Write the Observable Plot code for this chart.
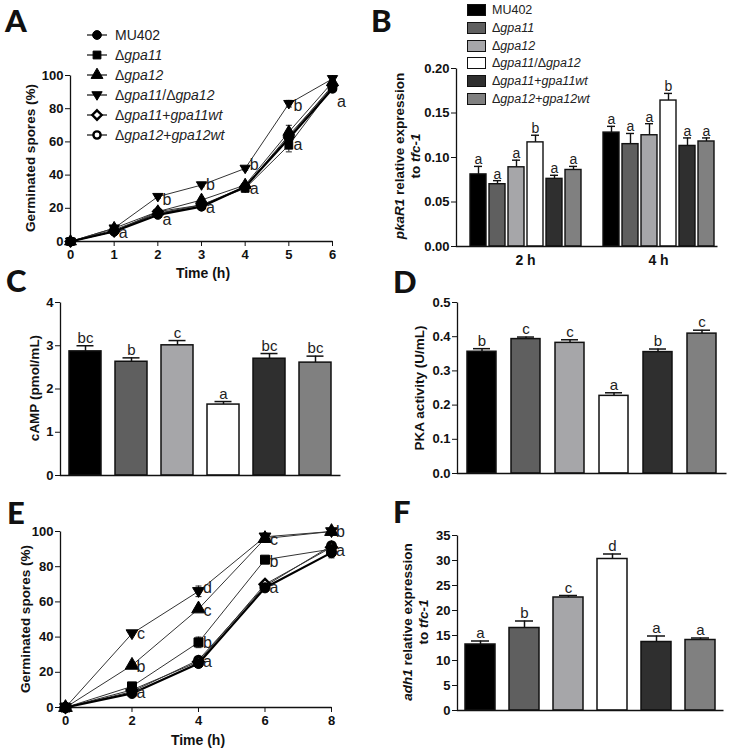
<!DOCTYPE html>
<html><head><meta charset="utf-8">
<script src="https://cdn.jsdelivr.net/npm/d3@7"></script>
<script src="https://cdn.jsdelivr.net/npm/@observablehq/plot@0.6"></script>
<style>
html,body{margin:0;padding:0;background:#fff;}
#fig{position:relative;width:732px;height:754px;overflow:hidden;background:#fff;font-family:"Liberation Sans",Arial,sans-serif;color:#111;}
.plet{position:absolute;font-family:Lato,"Liberation Sans",sans-serif;font-weight:900;font-size:31px;line-height:36px;}
.yt{position:absolute;transform:translate(-50%,-50%) rotate(-90deg);white-space:nowrap;font-weight:bold;font-size:13.5px;line-height:16px;text-align:center;}
.xt{position:absolute;transform:translate(-50%,-50%);white-space:nowrap;font-weight:bold;font-size:14px;}
.lg{position:absolute;display:flex;align-items:center;white-space:nowrap;transform:translateY(-50%);color:#222;}
</style></head><body><div id="fig"></div><script>
// ---------------- DATA ----------------
const strains = ["MU402","Δgpa11","Δgpa12","Δgpa11/Δgpa12","Δgpa11+gpa11wt","Δgpa12+gpa12wt"];
const legendLabels = ["MU402","Δ<i>gpa11</i>","Δ<i>gpa12</i>","Δ<i>gpa11</i>/Δ<i>gpa12</i>","Δ<i>gpa11</i>+<i>gpa11wt</i>","Δ<i>gpa12</i>+<i>gpa12wt</i>"];
const barFills = ["#000000","#5f5f5f","#a6a6a9","#ffffff","#2f2f2f","#808080"];

// Panel A: germination (%) vs time (h)
const timeA = [0,1,2,3,4,5,6];
const germA_MU402   = [0,6,16,21,33,62,92];
const germA_gpa11   = [0,7,17,22,32,58,93];
const germA_gpa12   = [0,8,18,25,34,66,96];
const germA_double  = [0,8,27,34,44,83,98];
const germA_gpa11wt = [0,6,18,22,33,63,94];
const germA_gpa12wt = [0,6,17,21,33,64,93];
const errA_MU402   = [0,1,1,1,2,3,2];
const errA_gpa11   = [0,1,1,1,2,4,2];
const errA_gpa12   = [0,1,1,1,1,4,1];
const errA_double  = [0,1,1,1,1,2,1];
const errA_gpa11wt = [0,1,1,1,1,3,1];
const errA_gpa12wt = [0,1,1,1,1,3,1];
const lettersA_t   = [1,2,2,3,3,4,4,5,5,6];
const lettersA_y   = [5,25,13,34,20,46,32,82,58,84];
const lettersA_txt = ["a","b","a","b","a","b","a","b","a","a"];

// Panel B: pkaR1 relative expression
const timesB = ["2 h","4 h"];
const pkaR1_2h     = [0.081,0.070,0.089,0.117,0.076,0.086];
const pkaR1_2h_err = [0.009,0.004,0.008,0.008,0.004,0.004];
const pkaR1_4h     = [0.128,0.115,0.125,0.164,0.113,0.118];
const pkaR1_4h_err = [0.007,0.012,0.013,0.008,0.009,0.004];
const lettersB_2h  = ["a","a","a","b","a","a"];
const lettersB_4h  = ["a","a","a","b","a","a"];

// Panel C: cAMP (pmol/mL)
const camp       = [2.87,2.63,3.01,1.64,2.70,2.61];
const campErr    = [0.13,0.09,0.11,0.07,0.12,0.15];
const campLetters= ["bc","b","c","a","bc","bc"];

// Panel D: PKA activity (U/mL)
const pka        = [0.356,0.393,0.382,0.227,0.355,0.409];
const pkaErr     = [0.009,0.006,0.009,0.009,0.009,0.010];
const pkaLetters = ["b","c","c","a","b","c"];

// Panel E: germination (%) vs time (h)
const timeE = [0,2,4,6,8];
const germE_MU402   = [0,8,25,68,88];
const germE_gpa11   = [0,12,37,84,90];
const germE_gpa12   = [0,24,56,96,100];
const germE_double  = [0,42,66,97,100];
const germE_gpa11wt = [0,10,26,70,91];
const germE_gpa12wt = [0,9,27,69,92];
const errE_MU402   = [0,1,2,1,3];
const errE_gpa11   = [0,1,3,1,2];
const errE_gpa12   = [0,1,1,1,1];
const errE_double  = [0,1,3,2,1];
const errE_gpa11wt = [0,1,2,1,2];
const errE_gpa12wt = [0,1,2,1,2];
const lettersE_t   = [2,2,2,4,4,4,4,6,6,6,8,8];
const lettersE_y   = [42,23,8.5,68,55,37,26,95,83,68,100,89];
const lettersE_txt = ["c","b","a","d","c","b","a","c","b","a","b","a"];

// Panel F: adh1 relative expression
const adh1        = [13.2,16.5,22.6,30.3,13.7,14.1];
const adh1Err     = [0.7,1.4,0.4,1.0,1.2,0.4];
const adh1Letters = ["a","b","c","d","a","a"];

// ---------------- HELPERS ----------------
const fig = document.getElementById("fig");
const FONT = '"Liberation Sans", Arial, sans-serif';
const baseStyle = {fontFamily: FONT, fontSize: "13px", fontWeight: "bold", background: "transparent", overflow: "visible", color: "#111"};

const triDown = {draw(ctx, size){ const r = Math.sqrt(size/Math.PI)*1.25; ctx.moveTo(0, r); ctx.lineTo(r*0.98, -r*0.62); ctx.lineTo(-r*0.98, -r*0.62); ctx.closePath(); }};
const diamondSq = {draw(ctx, size){ const r = Math.sqrt(size/Math.PI)*1.3; ctx.moveTo(0,-r); ctx.lineTo(r,0); ctx.lineTo(0,r); ctx.lineTo(-r,0); ctx.closePath(); }};
const capSym = {draw(ctx, size){ const r = Math.sqrt(size/Math.PI); ctx.moveTo(-r,0); ctx.lineTo(r,0); }};
const markerDefs = [
  {symbol: d3.symbolCircle,   r: 4.4, fill: "#000", stroke: "#000", sw: 1},
  {symbol: d3.symbolSquare,   r: 4.4, fill: "#000", stroke: "#000", sw: 1},
  {symbol: d3.symbolTriangle, r: 4.4, fill: "#000", stroke: "#000", sw: 1},
  {symbol: triDown,           r: 4.2, fill: "#000", stroke: "#000", sw: 1},
  {symbol: diamondSq,         r: 3.6, fill: "#fff", stroke: "#000", sw: 2.4},
  {symbol: d3.symbolCircle,   r: 3.6, fill: "#fff", stroke: "#000", sw: 2.4}
];

function place(node, left, top){ node.style.position = "absolute"; node.style.left = left+"px"; node.style.top = top+"px"; fig.appendChild(node); return node; }
function div(cls, html, left, top){ const d = document.createElement("div"); d.className = cls; d.innerHTML = html; d.style.left = left+"px"; d.style.top = top+"px"; fig.appendChild(d); return d; }
function axisLines(w,h,m){ const a = w-m.l-m.r, b = h-m.t-m.b; return Plot.frame({stroke:"#111", strokeWidth:1.3, strokeDasharray:`0 ${a+b} ${a+b}`}); }

function lineChart(cfg){
  const rows = [];
  strains.forEach((s,i) => cfg.time.forEach((t,j) => rows.push({strain:s, i, t, v: cfg.series[i][j], e: cfg.errs[i][j]})));
  const letters = cfg.lt.map((t,k) => ({t, y: cfg.ly[k], label: cfg.ltxt[k]}));
  const m = cfg.m, k = cfg.markerScale;
  const marks = [
    axisLines(cfg.w, cfg.h, m),
    Plot.axisX({ticks: cfg.xTicks, tickFormat: d3.format("d"), tickSize: 5, tickPadding: 3, label: null}),
    Plot.axisY({ticks: cfg.yTicks, tickFormat: d3.format("d"), tickSize: 5, tickPadding: 2, label: null}),
    Plot.line(rows, {filter: d => d.i !== 0, x: "t", y: "v", z: "strain", stroke: "#333", strokeWidth: 1}),
    Plot.line(rows, {filter: d => d.i === 0, x: "t", y: "v", stroke: "#000", strokeWidth: 2.2}),
    Plot.ruleX(rows, {filter: d => d.e > 0, x: "t", y1: d => d.v - d.e, y2: d => d.v + d.e, stroke: "#222", strokeWidth: 1}),
    Plot.dot(rows, {filter: d => d.e > 0, x: "t", y: d => d.v + d.e, symbol: capSym, r: 3, stroke: "#222", fill: "none", strokeWidth: 1}),
    Plot.dot(rows, {filter: d => d.e > 0, x: "t", y: d => d.v - d.e, symbol: capSym, r: 3, stroke: "#222", fill: "none", strokeWidth: 1})
  ];
  [5,4,0,1,2,3].forEach(i => {
    const md = markerDefs[i];
    marks.push(Plot.dot(rows, {filter: d => d.i === i, x: "t", y: "v", symbol: md.symbol, r: md.r*k, fill: md.fill, stroke: md.stroke, strokeWidth: md.sw}));
  });
  marks.push(Plot.text(letters, {x: "t", y: "y", text: "label", dx: 9, fontSize: 16, fontWeight: "normal", fill: "#222"}));
  return Plot.plot({
    width: cfg.w, height: cfg.h, marginLeft: m.l, marginRight: m.r, marginTop: m.t, marginBottom: m.b,
    x: {domain: cfg.xDomain}, y: {domain: cfg.yDomain},
    style: baseStyle, marks
  });
}

function barChart(cfg){
  const rows = strains.map((s,i) => ({key: s, strain: s, v: cfg.values[i], e: cfg.errs[i], label: cfg.letters[i]}));
  const m = cfg.m;
  return Plot.plot({
    width: cfg.w, height: cfg.h, marginLeft: m.l, marginRight: m.r, marginTop: m.t, marginBottom: m.b,
    x: {domain: strains, axis: null, paddingInner: cfg.pi, paddingOuter: cfg.po, align: 0.5},
    y: {domain: cfg.yDomain},
    color: {domain: strains, range: barFills},
    style: baseStyle,
    marks: [
      Plot.ruleX(rows, {x: "key", y1: "v", y2: d => d.v + d.e, stroke: "#111", strokeWidth: 1.5}),
      Plot.tickY(rows, {x: "key", y: d => d.v + d.e, stroke: "#111", strokeWidth: 1.5, insetLeft: cfg.cap, insetRight: cfg.cap}),
      Plot.barY(rows, {x: "key", y: "v", fill: "strain", stroke: "#111", strokeWidth: 1.5}),
      Plot.text(rows, {x: "key", y: d => d.v + d.e, text: "label", dy: -3, lineAnchor: "bottom", fontSize: 15, fontWeight: "normal", fill: "#222"}),
      axisLines(cfg.w, cfg.h, m),
      Plot.axisY({ticks: cfg.yTicks, tickFormat: cfg.fmt, tickSize: 5, tickPadding: 2, label: null})
    ]
  });
}

// ---------------- PANEL A ----------------
place(lineChart({
  w: 370, h: 280, m: {l: 70, r: 38, t: 75, b: 39}, markerScale: 1,
  time: timeA, xDomain: [0,6], yDomain: [0,100], xTicks: timeA, yTicks: [0,20,40,60,80,100],
  series: [germA_MU402, germA_gpa11, germA_gpa12, germA_double, germA_gpa11wt, germA_gpa12wt],
  errs: [errA_MU402, errA_gpa11, errA_gpa12, errA_double, errA_gpa11wt, errA_gpa12wt],
  lt: lettersA_t, ly: lettersA_y, ltxt: lettersA_txt
}), 0, 0);

// legend A
strains.forEach((s,i) => {
  const md = markerDefs[i];
  const path = d3.symbol(md.symbol, Math.PI*md.r*md.r)();
  const html = `<svg width="22" height="12" style="margin-right:7px;overflow:visible"><line x1="1" x2="21" y1="6" y2="6" stroke="#222" stroke-width="1.3"/><path d="${path}" transform="translate(11,6)" fill="${md.fill}" stroke="${md.stroke}" stroke-width="${md.sw}"/></svg><span style="font-size:14px">${legendLabels[i]}</span>`;
  div("lg", html, 86, 35 + i*20);
});

// ---------------- PANEL B ----------------
const keysB = [];
const rowsB = [];
timesB.forEach((t,g) => {
  if (g > 0) keysB.push("gap");
  const vals = g === 0 ? pkaR1_2h : pkaR1_4h, errs = g === 0 ? pkaR1_2h_err : pkaR1_4h_err, lets = g === 0 ? lettersB_2h : lettersB_4h;
  strains.forEach((s,i) => { const key = t + "|" + s; keysB.push(key); rowsB.push({key, time: t, strain: s, v: vals[i], e: errs[i], label: lets[i]}); });
});
const mB = {l: 86, r: 15, t: 68, b: 24};
const plotB = Plot.plot({
  width: 362, height: 270, marginLeft: mB.l, marginRight: mB.r, marginTop: mB.t, marginBottom: mB.b,
  x: {domain: keysB, axis: null, paddingInner: 0.145, paddingOuter: 0.34, align: 0.85},
  y: {domain: [0, 0.2]},
  color: {domain: strains, range: barFills},
  style: baseStyle,
  marks: [
    Plot.ruleX(rowsB, {x: "key", y1: "v", y2: d => d.v + d.e, stroke: "#111", strokeWidth: 1.4}),
    Plot.tickY(rowsB, {x: "key", y: d => d.v + d.e, stroke: "#111", strokeWidth: 1.4, insetLeft: 4, insetRight: 4}),
    Plot.barY(rowsB, {x: "key", y: "v", fill: "strain", stroke: "#111", strokeWidth: 1.4}),
    Plot.text(rowsB, {x: "key", y: d => d.v + d.e, text: "label", dy: -2, lineAnchor: "bottom", fontSize: 14, fontWeight: "normal", fill: "#222"}),
    axisLines(362, 270, mB),
    Plot.axisY({ticks: [0,0.05,0.1,0.15,0.2], tickFormat: d3.format(".2f"), tickSize: 5, tickPadding: 2, label: null})
  ]
});
place(plotB, 370, 0);
{
  const sx = plotB.scale("x");
  const band = d3.scaleBand().domain(sx.domain).range(sx.range).paddingInner(sx.paddingInner ?? 0.145).paddingOuter(sx.paddingOuter ?? 0.34).align(sx.align ?? 0.85);
  const pos = k => sx.apply ? sx.apply(k) : band(k);
  const bw = sx.bandwidth ?? band.bandwidth();
  timesB.forEach(t => {
    const first = pos(t + "|" + strains[0]), last = pos(t + "|" + strains[strains.length-1]);
    div("xt", t, 370 + (first + last + bw)/2, 260);
  });
}
// legend B
strains.forEach((s,i) => {
  const html = `<span style="display:inline-block;width:17px;height:10px;border:1.3px solid #111;background:${barFills[i]};margin-right:6px"></span><span style="font-size:12.5px">${legendLabels[i]}</span>`;
  div("lg", html, 467, 10 + i*17.8);
});

// ---------------- PANEL C ----------------
place(barChart({
  w: 370, h: 215, m: {l: 60, r: 30, t: 32, b: 10},
  values: camp, errs: campErr, letters: campLetters, yDomain: [0,4], yTicks: [0,1,2,3,4], fmt: d3.format("d"),
  pi: 0.31, po: 0.155, cap: 7.5
}), 0, 270);

// ---------------- PANEL D ----------------
place(barChart({
  w: 362, h: 215, m: {l: 87, r: 6, t: 32, b: 12},
  values: pka, errs: pkaErr, letters: pkaLetters, yDomain: [0,0.5], yTicks: [0,0.1,0.2,0.3,0.4,0.5], fmt: d3.format(".1f"),
  pi: 0.33, po: 0.155, cap: 6
}), 370, 270);

// ---------------- PANEL E ----------------
place(lineChart({
  w: 370, h: 284, m: {l: 60, r: 39, t: 61, b: 47}, markerScale: 1.15,
  time: timeE, xDomain: [-0.15, 8], yDomain: [0,100], xTicks: timeE, yTicks: [0,20,40,60,80,100],
  series: [germE_MU402, germE_gpa11, germE_gpa12, germE_double, germE_gpa11wt, germE_gpa12wt],
  errs: [errE_MU402, errE_gpa11, errE_gpa12, errE_double, errE_gpa11wt, errE_gpa12wt],
  lt: lettersE_t, ly: lettersE_y, ltxt: lettersE_txt
}), 0, 470);

// ---------------- PANEL F ----------------
place(barChart({
  w: 362, h: 284, m: {l: 87, r: 9, t: 65, b: 44},
  values: adh1, errs: adh1Err, letters: adh1Letters, yDomain: [0,35], yTicks: [0,5,10,15,20,25,30,35], fmt: d3.format("d"),
  pi: 0.325, po: 0.157, cap: 6
}), 370, 470);

// ---------------- TITLES ----------------
div("yt", "Germinated spores (%)", 31, 158);
div("xt", "Time (h)", 203, 273);
div("yt", "<i>pkaR1</i> relative expression<br>to <i>tfc-1</i>", 408, 156);
div("yt", "cAMP (pmol/mL)", 35, 388);
div("yt", "PKA activity (U/mL)", 420, 388);
div("yt", "Germinated spores (%)", 26, 619);
div("xt", "Time (h)", 198, 740);
div("yt", "<i>adh1</i> relative expression<br>to <i>tfc-1</i>", 416, 622);

// panel letters
[["A",5,2],["B",371,2],["C",6,262],["D",393,263],["E",7,494],["F",393,493]].forEach(([t,x,y]) => div("plet", t, x, y));
</script></body></html>
